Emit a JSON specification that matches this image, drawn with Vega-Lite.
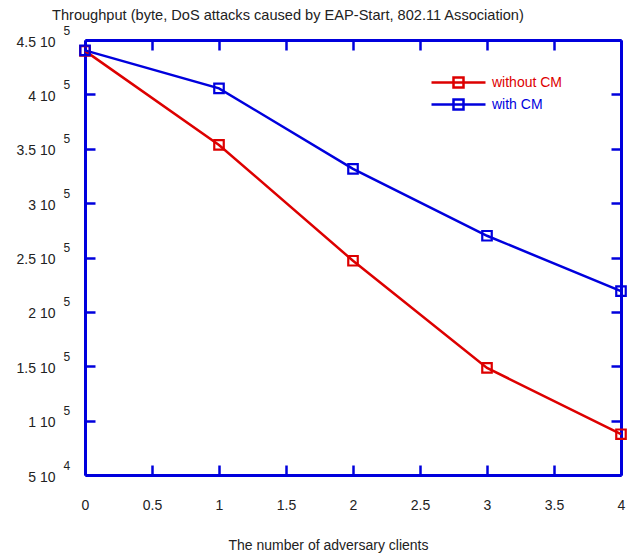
{
  "$schema": "https://vega.github.io/schema/vega-lite/v6.json",
  "width": 536,
  "height": 435,
  "autosize": {"type": "none"},
  "padding": {"left": 85, "top": 40, "right": 13, "bottom": 78},
  "background": "white",
  "config": {
    "font": "Liberation Sans",
    "view": {"stroke": null},
    "axis": {
      "grid": false,
      "domainColor": "#0000dd",
      "domainWidth": 3,
      "tickColor": "#0000dd",
      "tickWidth": 2.5,
      "tickSize": -10,
      "labelFont": "Liberation Sans",
      "labelFontSize": 14,
      "labelColor": "#222222",
      "titleFont": "Liberation Sans",
      "titleFontSize": 14,
      "titleFontWeight": "normal",
      "titleColor": "#222222"
    }
  },
  "title": {
    "text": "Throughput (byte, DoS attacks caused by EAP-Start, 802.11 Association)",
    "anchor": "start",
    "frame": "group",
    "dx": -33,
    "dy": 15,
    "fontSize": 14.6,
    "fontWeight": "normal",
    "color": "#222222",
    "baseline": "alphabetic",
    "offset": 4
  },
  "data": {
    "values": [
      {"clients": 0, "throughput": 440000, "series": "without CM"},
      {"clients": 1, "throughput": 353500, "series": "without CM"},
      {"clients": 2, "throughput": 247000, "series": "without CM"},
      {"clients": 3, "throughput": 148500, "series": "without CM"},
      {"clients": 4, "throughput": 87500, "series": "without CM"},
      {"clients": 0, "throughput": 440500, "series": "with CM"},
      {"clients": 1, "throughput": 405500, "series": "with CM"},
      {"clients": 2, "throughput": 331500, "series": "with CM"},
      {"clients": 3, "throughput": 270000, "series": "with CM"},
      {"clients": 4, "throughput": 219000, "series": "with CM"}
    ]
  },
  "resolve": {
    "scale": {"x": "independent", "y": "independent"},
    "axis": {"x": "independent", "y": "independent"}
  },
  "layer": [
    {
      "mark": {"type": "line", "strokeWidth": 2.5},
      "encoding": {
        "x": {
          "field": "clients", "type": "quantitative",
          "scale": {"domain": [0, 4], "nice": false, "zero": false},
          "axis": {
            "orient": "bottom",
            "values": [0, 0.5, 1, 1.5, 2, 2.5, 3, 3.5, 4],
            "format": ".1~f",
            "labelPadding": 33,
            "labelFlush": false,
            "labelOverlap": false,
            "title": "The number of adversary clients",
            "titleX": 243,
            "titleY": 70,
            "titleBaseline": "middle",
            "titleAnchor": "middle"
          }
        },
        "y": {
          "field": "throughput", "type": "quantitative",
          "scale": {"domain": [50000, 450000], "nice": false, "zero": false},
          "axis": {
            "orient": "left",
            "values": [50000, 100000, 150000, 200000, 250000, 300000, 350000, 400000, 450000],
            "labelExpr": "datum.value < 100000 ? '5 10' : (datum.value / 100000) + ' 10'",
            "labelPadding": 40,
            "labelOffset": 2,
            "labelFlush": false,
            "labelOverlap": false,
            "labelBaseline": "middle",
            "title": null
          }
        },
        "color": {
          "field": "series", "type": "nominal",
          "scale": {"domain": ["without CM", "with CM"], "range": ["#dd0000", "#0000dd"]},
          "legend": {
            "orient": "none",
            "legendX": 362,
            "legendY": 31,
            "title": null,
            "padding": 0,
            "symbolType": "M-2.7,0L2.7,0M-0.5,-0.5L0.5,-0.5L0.5,0.5L-0.5,0.5Z",
            "symbolSize": 400,
            "symbolStrokeWidth": 2.5,
            "labelFont": "Liberation Sans",
            "labelFontSize": 14,
            "labelOffset": 22,
            "rowPadding": -2,
            "encode": {
              "labels": {"update": {"fill": {"scale": "color", "field": "value"}}}
            }
          }
        }
      }
    },
    {
      "mark": {"type": "point", "shape": "square", "filled": false, "size": 90, "strokeWidth": 2.2, "opacity": 1},
      "encoding": {
        "x": {"field": "clients", "type": "quantitative", "scale": {"domain": [0, 4], "nice": false, "zero": false}, "axis": null},
        "y": {"field": "throughput", "type": "quantitative", "scale": {"domain": [50000, 450000], "nice": false, "zero": false}, "axis": null},
        "color": {"field": "series", "type": "nominal", "scale": {"domain": ["without CM", "with CM"], "range": ["#dd0000", "#0000dd"]}, "legend": null}
      }
    },
    {
      "mark": {"type": "point", "opacity": 0},
      "encoding": {
        "x": {
          "field": "clients", "type": "quantitative",
          "scale": {"domain": [0, 4], "nice": false, "zero": false},
          "axis": {"orient": "top", "values": [0, 0.5, 1, 1.5, 2, 2.5, 3, 3.5, 4], "labels": false, "title": null}
        },
        "y": {
          "field": "throughput", "type": "quantitative",
          "scale": {"domain": [50000, 450000], "nice": false, "zero": false},
          "axis": {
            "orient": "left",
            "values": [50000, 100000, 150000, 200000, 250000, 300000, 350000, 400000, 450000],
            "labelExpr": "datum.value < 100000 ? '4' : '5'",
            "ticks": false,
            "domain": false,
            "labelFontSize": 12,
            "labelAlign": "left",
            "labelBaseline": "middle",
            "labelPadding": 22,
            "labelOffset": -10,
            "labelFlush": false,
            "labelOverlap": false,
            "title": null
          }
        }
      }
    },
    {
      "mark": {"type": "point", "opacity": 0},
      "encoding": {
        "x": {"field": "clients", "type": "quantitative", "scale": {"domain": [0, 4], "nice": false, "zero": false}, "axis": null},
        "y": {
          "field": "throughput", "type": "quantitative",
          "scale": {"domain": [50000, 450000], "nice": false, "zero": false},
          "axis": {"orient": "right", "values": [50000, 100000, 150000, 200000, 250000, 300000, 350000, 400000, 450000], "labels": false, "title": null}
        }
      }
    }
  ]
}
